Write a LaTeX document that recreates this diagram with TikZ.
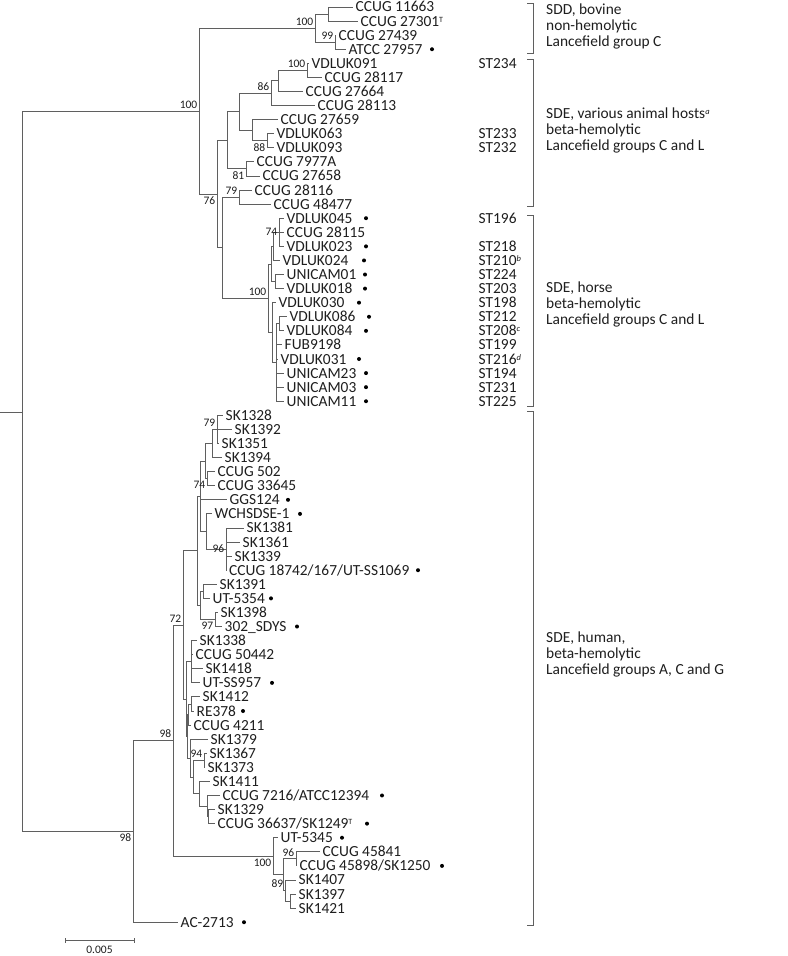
\documentclass[tikz,border=0pt]{standalone}
\usepackage{fontspec}
\setmainfont{Carlito}
\usetikzlibrary{positioning}

\definecolor{branchgray}{RGB}{95,95,95}
\definecolor{labelgray}{RGB}{30,30,30}
\newcommand{\supT}{\raisebox{4pt}{\fontsize{8}{8}\selectfont T}}
\newcommand{\supnote}[1]{\raisebox{4pt}{\fontsize{8.5}{8}\selectfont\itshape #1}}

\begin{document}
\begin{tikzpicture}[x=1pt, y=-14.08pt,
    br/.style={draw=branchgray, line width=0.9pt},
    leaf/.style={anchor=west, inner xsep=2.5pt, inner ysep=0pt, text height=10pt, text depth=0pt,
        font=\fontsize{15.4}{16}\selectfont, text=labelgray},
    bs/.style={font=\fontsize{11.5}{12}\selectfont, text=labelgray, inner xsep=1.5pt, inner ysep=2.5pt},
    grp/.style={anchor=west, align=left, inner sep=0pt, font=\fontsize{15.4}{16}\selectfont, text=labelgray},
    dot/.style={fill=black}
]
    \useasboundingbox (0,-0.497) rectangle (787,67.40);

    % SDD, bovine
    \node[leaf] (l0) at (353,0) {CCUG 11663};
    \node[leaf] (l1) at (358,1) {CCUG 27301\supT};
    \node[leaf] (l2) at (336,2) {CCUG 27439};
    \node[leaf] (l3) at (346,3) {ATCC 27957};

    % SDE, various animal hosts
    \node[leaf] (l4) at (309,4) {VDLUK091};
    \node[leaf] (l5) at (322,5) {CCUG 28117};
    \node[leaf] (l6) at (303,6) {CCUG 27664};
    \node[leaf] (l7) at (315,7) {CCUG 28113};
    \node[leaf] (l8) at (278,8) {CCUG 27659};
    \node[leaf] (l9) at (274,9) {VDLUK063};
    \node[leaf] (l10) at (274,10) {VDLUK093};
    \node[leaf] (l11) at (254,11) {CCUG 7977A};
    \node[leaf] (l12) at (260,12) {CCUG 27658};
    \node[leaf] (l13) at (252,13) {CCUG 28116};
    \node[leaf] (l14) at (271,14) {CCUG 48477};

    % SDE, horse
    \node[leaf] (l15) at (284,15) {VDLUK045};
    \node[leaf] (l16) at (284,16) {CCUG 28115};
    \node[leaf] (l17) at (284,17) {VDLUK023};
    \node[leaf] (l18) at (280,18) {VDLUK024};
    \node[leaf] (l19) at (284,19) {UNICAM01};
    \node[leaf] (l20) at (284,20) {VDLUK018};
    \node[leaf] (l21) at (276,21) {VDLUK030};
    \node[leaf] (l22) at (287,22) {VDLUK086};
    \node[leaf] (l23) at (284,23) {VDLUK084};
    \node[leaf] (l24) at (282,24) {FUB9198};
    \node[leaf] (l25) at (278,25) {VDLUK031};
    \node[leaf] (l26) at (284,26) {UNICAM23};
    \node[leaf] (l27) at (284,27) {UNICAM03};
    \node[leaf] (l28) at (284,28) {UNICAM11};

    % SDE, human
    \node[leaf] (l29) at (223,29) {SK1328};
    \node[leaf] (l30) at (232,30) {SK1392};
    \node[leaf] (l31) at (219,31) {SK1351};
    \node[leaf] (l32) at (222,32) {SK1394};
    \node[leaf] (l33) at (215,33) {CCUG 502};
    \node[leaf] (l34) at (215,34) {CCUG 33645};
    \node[leaf] (l35) at (227,35) {GGS124};
    \node[leaf] (l36) at (212,36) {WCHSDSE-1};
    \node[leaf] (l37) at (244,37) {SK1381};
    \node[leaf] (l38) at (240,38) {SK1361};
    \node[leaf] (l39) at (232,39) {SK1339};
    \node[leaf] (l40) at (226.5,40) {CCUG 18742/167/UT-SS1069};
    \node[leaf] (l41) at (217,41) {SK1391};
    \node[leaf] (l42) at (210,42) {UT-5354};
    \node[leaf] (l43) at (218,43) {SK1398};
    \node[leaf] (l44) at (222,44) {302\_SDYS};
    \node[leaf] (l45) at (197,45) {SK1338};
    \node[leaf] (l46) at (193,46) {CCUG 50442};
    \node[leaf] (l47) at (203,47) {SK1418};
    \node[leaf] (l48) at (200,48) {UT-SS957};
    \node[leaf] (l49) at (200,49) {SK1412};
    \node[leaf] (l50) at (194,50) {RE378};
    \node[leaf] (l51) at (191,51) {CCUG 4211};
    \node[leaf] (l52) at (208,52) {SK1379};
    \node[leaf] (l53) at (207,53) {SK1367};
    \node[leaf] (l54) at (205,54) {SK1373};
    \node[leaf] (l55) at (210,55) {SK1411};
    \node[leaf] (l56) at (220,56) {CCUG 7216/ATCC12394};
    \node[leaf] (l57) at (215,57) {SK1329};
    \node[leaf] (l58) at (215,58) {CCUG 36637/SK1249\supT};
    \node[leaf] (l59) at (278,59) {UT-5345};
    \node[leaf] (l60) at (320,60) {CCUG 45841};
    \node[leaf] (l61) at (297,61) {CCUG 45898/SK1250};
    \node[leaf] (l62) at (296,62) {SK1407};
    \node[leaf] (l63) at (296,63) {SK1397};
    \node[leaf] (l64) at (296,64) {SK1421};
    \node[leaf] (l65) at (178,65) {AC-2713};

    % Inner nodes
    \coordinate (stub) at (0,28.77);
    \coordinate (root) at (22,28.77);
    \coordinate (top) at (199,7.39);
    \coordinate (sdd) at (315,1.5);
    \coordinate (s1) at (328,0.5);
    \coordinate (s2) at (335,2.5);
    \coordinate (b) at (217,13.28);
    \coordinate (a8) at (227,9.47);
    \coordinate (a6) at (239,7.44);
    \coordinate (a3) at (271,6.125);
    \coordinate (a2) at (278,5.25);
    \coordinate (a1) at (307,4.5);
    \coordinate (a5) at (252,8.75);
    \coordinate (a4) at (267,9.5);
    \coordinate (a7) at (246,11.5);
    \coordinate (an) at (222,17.09);
    \coordinate (a9) at (239,13.5);
    \coordinate (h8) at (268,20.69);
    \coordinate (h4) at (271,18.25);
    \coordinate (h2) at (273,17);
    \coordinate (h1) at (279,16);
    \coordinate (h3) at (275,19.5);
    \coordinate (h7) at (272,23.125);
    \coordinate (h6) at (276,25.25);
    \coordinate (h5) at (279,22.5);
    \coordinate (q) at (133,58.55);
    \coordinate (r) at (173,52.1);
    \coordinate (s72) at (183,43.9);
    \coordinate (u11) at (197,38.6);
    \coordinate (u7) at (200,34.75);
    \coordinate (u4) at (205,32.25);
    \coordinate (u2) at (212,31);
    \coordinate (u1) at (217,30);
    \coordinate (u3) at (207,33.5);
    \coordinate (u6) at (206,37.25);
    \coordinate (u5) at (226,38.5);
    \coordinate (u10) at (200,42.5);
    \coordinate (u8) at (203,41.5);
    \coordinate (u9) at (215,43.5);
    \coordinate (v11) at (186,49.15);
    \coordinate (v1) at (191,46.5);
    \coordinate (v10) at (187,51.8);
    \coordinate (v3) at (188,50.25);
    \coordinate (v2) at (191,49.5);
    \coordinate (v9) at (190,53.34);
    \coordinate (v8) at (193,54.69);
    \coordinate (v4) at (204,53.5);
    \coordinate (v7) at (199,55.875);
    \coordinate (v6) at (207,56.75);
    \coordinate (v5) at (208,57.5);
    \coordinate (w5) at (273,60.31);
    \coordinate (w4) at (283,61.625);
    \coordinate (w1) at (296,60.5);
    \coordinate (w3) at (285,62.75);
    \coordinate (w2) at (290,63.5);

    % Branches
    \draw[br] (stub) -- (root) |- (top) (root) |- (q);
    \draw[br] (top) |- (sdd) (top) |- (b);
    \draw[br] (sdd) |- (s1) (sdd) |- (s2);
    \draw[br] (s1) |- (l0.west) (s1) |- (l1.west);
    \draw[br] (s2) |- (l2.west) (s2) |- (l3.west);
    \draw[br] (b) |- (a8) (b) |- (an);
    \draw[br] (a8) |- (a6) (a8) |- (a7);
    \draw[br] (a6) |- (a3) (a6) |- (a5);
    \draw[br] (a3) |- (a2) (a3) |- (l7.west);
    \draw[br] (a2) |- (a1) (a2) |- (l6.west);
    \draw[br] (a1) |- (l4.west) (a1) |- (l5.west);
    \draw[br] (a5) |- (l8.west) (a5) |- (a4);
    \draw[br] (a4) |- (l9.west) (a4) |- (l10.west);
    \draw[br] (a7) |- (l11.west) (a7) |- (l12.west);
    \draw[br] (an) |- (a9) (an) |- (h8);
    \draw[br] (a9) |- (l13.west) (a9) |- (l14.west);
    \draw[br] (h8) |- (h4) (h8) |- (h7);
    \draw[br] (h4) |- (h2) (h4) |- (h3);
    \draw[br] (h2) |- (h1) (h2) |- (l18.west);
    \draw[br] (h1) |- (l15.west) (h1) |- (l16.west) (h1) |- (l17.west);
    \draw[br] (h3) |- (l19.west) (h3) |- (l20.west);
    \draw[br] (h7) |- (l21.west) (h7) |- (h6);
    \draw[br] (h6) |- (h5) (h6) |- (l24.west) (h6) |- (l25.west)
        (h6) |- (l26.west) (h6) |- (l27.west) (h6) |- (l28.west);
    \draw[br] (h5) |- (l22.west) (h5) |- (l23.west);
    \draw[br] (q) |- (r) (q) |- (l65.west);
    \draw[br] (r) |- (s72) (r) |- (w5);
    \draw[br] (s72) |- (u11) (s72) |- (v11);
    \draw[br] (u11) |- (u7) (u11) |- (u10);
    \draw[br] (u7) |- (u4) (u7) |- (l35.west) (u7) |- (u6);
    \draw[br] (u4) |- (u2) (u4) |- (u3);
    \draw[br] (u2) |- (u1) (u2) |- (l32.west);
    \draw[br] (u1) |- (l29.west) (u1) |- (l30.west) (u1) |- (l31.west);
    \draw[br] (u3) |- (l33.west) (u3) |- (l34.west);
    \draw[br] (u6) |- (l36.west) (u6) |- (u5);
    \draw[br] (u5) |- (l37.west) (u5) |- (l38.west) (u5) |- (l39.west) (u5) |- (l40.west);
    \draw[br] (u10) |- (u8) (u10) |- (u9);
    \draw[br] (u8) |- (l41.west) (u8) |- (l42.west);
    \draw[br] (u9) |- (l43.west) (u9) |- (l44.west);
    \draw[br] (v11) |- (v1) (v11) |- (v10);
    \draw[br] (v1) |- (l45.west) (v1) |- (l46.west) (v1) |- (l47.west) (v1) |- (l48.west);
    \draw[br] (v10) |- (v3) (v10) |- (v9);
    \draw[br] (v3) |- (v2) (v3) |- (l51.west);
    \draw[br] (v2) |- (l49.west) (v2) |- (l50.west);
    \draw[br] (v9) |- (l52.west) (v9) |- (v8);
    \draw[br] (v8) |- (v4) (v8) |- (v7);
    \draw[br] (v4) |- (l53.west) (v4) |- (l54.west);
    \draw[br] (v7) |- (l55.west) (v7) |- (v6);
    \draw[br] (v6) |- (l56.west) (v6) |- (v5);
    \draw[br] (v5) |- (l57.west) (v5) |- (l58.west);
    \draw[br] (w5) |- (l59.west) (w5) |- (w4);
    \draw[br] (w4) |- (w1) (w4) |- (w3);
    \draw[br] (w1) |- (l60.west) (w1) |- (l61.west);
    \draw[br] (w3) |- (l62.west) (w3) |- (w2);
    \draw[br] (w2) |- (l63.west) (w2) |- (l64.west);

    % Bootstrap values
    \node[bs, above left=0pt of top] (bsTop) {100};
    \node[bs, above left=0pt of sdd] (bsSdd) {100};
    \node[bs, above left=0pt of s2] (bsS2) {99};
    \node[bs, above left=0pt of a1] (bsA1) {100};
    \node[bs, above left=0pt of a3] (bsA3) {86};
    \node[bs, below left=0pt of a4] (bsA4) {88};
    \node[bs, below left=0pt of a7] (bsA7) {81};
    \node[bs, above left=0pt of a9] (bsA9) {79};
    \node[bs, below left=0pt of b] (bsB) {76};
    \node[bs, left=0pt of h1] (bsH1) {74};
    \node[bs, above left=0pt of h8] (bsH8) {100};
    \node[bs, above left=0pt of u1] (bsU1) {79};
    \node[bs, below left=0pt of u3] (bsU3) {74};
    \node[bs, left=0pt of u5] (bsU5) {96};
    \node[bs, below left=0pt of u9] (bsU9) {97};
    \node[bs, above left=0pt of s72] (bsS72) {72};
    \node[bs, above left=0pt of r] (bsR) {98};
    \node[bs, above left=0pt of v4] (bsV4) {94};
    \node[bs, below left=0pt of q] (bsQ) {98};
    \node[bs, below left=0pt of w5] (bsW5) {100};
    \node[bs, above left=0pt of w1] (bsW1) {96};
    \node[bs, above left=0pt of w3] (bsW3) {89};

    % Isolate marks
    \fill[dot] (432,3) circle (2pt);
    \fill[dot] (366,15) circle (2pt);
    \fill[dot] (366,17) circle (2pt);
    \fill[dot] (364,18) circle (2pt);
    \fill[dot] (365,19) circle (2pt);
    \fill[dot] (365,20) circle (2pt);
    \fill[dot] (359,21) circle (2pt);
    \fill[dot] (369,22) circle (2pt);
    \fill[dot] (366,23) circle (2pt);
    \fill[dot] (359,25) circle (2pt);
    \fill[dot] (366,26) circle (2pt);
    \fill[dot] (366,27) circle (2pt);
    \fill[dot] (366,28) circle (2pt);
    \fill[dot] (288,35) circle (2pt);
    \fill[dot] (300,36) circle (2pt);
    \fill[dot] (418,40) circle (2pt);
    \fill[dot] (271,42) circle (2pt);
    \fill[dot] (297,44) circle (2pt);
    \fill[dot] (272,48) circle (2pt);
    \fill[dot] (243,50) circle (2pt);
    \fill[dot] (382,56) circle (2pt);
    \fill[dot] (367,58) circle (2pt);
    \fill[dot] (342,59) circle (2pt);
    \fill[dot] (442,61) circle (2pt);
    \fill[dot] (244,65) circle (2pt);

    % Sequence types
    \node[leaf] (st4) at (476,4) {ST234};
    \node[leaf] (st9) at (476,9) {ST233};
    \node[leaf] (st10) at (476,10) {ST232};
    \node[leaf] (st15) at (476,15) {ST196};
    \node[leaf] (st17) at (476,17) {ST218};
    \node[leaf] (st18) at (476,18) {ST210\supnote{b}};
    \node[leaf] (st19) at (476,19) {ST224};
    \node[leaf] (st20) at (476,20) {ST203};
    \node[leaf] (st21) at (476,21) {ST198};
    \node[leaf] (st22) at (476,22) {ST212};
    \node[leaf] (st23) at (476,23) {ST208\supnote{c}};
    \node[leaf] (st24) at (476,24) {ST199};
    \node[leaf] (st25) at (476,25) {ST216\supnote{d}};
    \node[leaf] (st26) at (476,26) {ST194};
    \node[leaf] (st27) at (476,27) {ST231};
    \node[leaf] (st28) at (476,28) {ST225};

    % Groups
    \draw[br] (527,-0.28) -- (533,-0.28) -- (533,3.27) -- (527,3.27);
    \draw[br] (527,3.76) -- (533,3.76) -- (533,14.2) -- (527,14.2);
    \draw[br] (527,14.77) -- (533,14.77) -- (533,28.34) -- (527,28.34);
    \draw[br] (527,28.76) -- (533,28.76) -- (533,65.2) -- (527,65.2);
    \node[grp] (gSDD) at (546,1.35) {SDD, bovine\\non-hemolytic\\Lancefield group C};
    \node[grp] (gAnimal) at (546,8.74) {SDE, various animal hosts\supnote{a}\\beta-hemolytic\\Lancefield groups C and L};
    \node[grp] (gHorse) at (546,21.16) {SDE, horse\\beta-hemolytic\\Lancefield groups C and L};
    \node[grp] (gHuman) at (546,45.95) {SDE, human,\\beta-hemolytic\\Lancefield groups A, C and G};

    % Scale bar
    \coordinate (sbL) at (65,66.33);
    \coordinate (sbR) at (134,66.33);
    \coordinate (sbM) at (99.5,66.33);
    \draw[br] (sbL) -- (sbR);
    \draw[br] ([yshift=2.5pt]sbL) -- ([yshift=-2.5pt]sbL);
    \draw[br] ([yshift=2.5pt]sbR) -- ([yshift=-2.5pt]sbR);
    \node[bs, below=2pt of sbM] (sbText) {0.005};
\end{tikzpicture}
\end{document}
